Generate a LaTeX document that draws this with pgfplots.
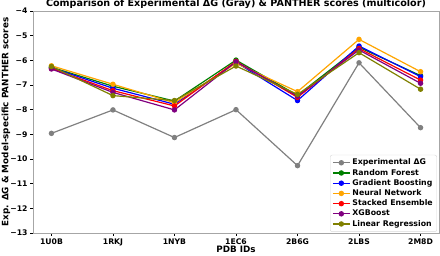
\documentclass[border=0pt]{standalone}
\usepackage{pgfplots}
\pgfplotsset{compat=1.18}
\usepackage{fontspec}
\setmainfont{DejaVu Sans}
\definecolor{mgray}{HTML}{808080}
\definecolor{mgreen}{HTML}{008000}
\definecolor{mblue}{HTML}{0000FF}
\definecolor{morange}{HTML}{FFA500}
\definecolor{mred}{HTML}{FF0000}
\definecolor{mpurple}{HTML}{800080}
\definecolor{molive}{HTML}{808000}
\begin{document}
\begin{tikzpicture}
\path[use as bounding box] (-33pt,-22pt) rectangle (407pt,233pt);
\begin{axis}[
  scale only axis, width=406pt, height=222pt,
  at={(0pt,0pt)}, anchor=south west,
  xmin=-0.3, xmax=6.3, ymin=-13, ymax=-4,
  xtick={0,...,6},
  xticklabels={1U0B,1RKJ,1NYB,1EC6,2B6G,2LBS,2M8D},
  ytick={-13,-12,...,-4},
  yticklabels={−13,−12,−11,−10,−9,−8,−7,−6,−5,−4},
  tick label style={font=\fontsize{7.7}{8.5}\selectfont\bfseries},
  xticklabel style={yshift=0.5pt},
  yticklabel style={xshift=0.5pt},
  tick align=outside, major tick length=2.5pt,
  tick style={black, line width=0.5pt},
  xtick pos=bottom, ytick pos=left,
  axis line style={gray!70, line width=0.6pt},
  title={Comparison of Experimental ΔG (Gray) \& PANTHER scores (multicolor)},
  title style={at={(axis description cs:0.5,1)}, anchor=base, yshift=-1.5pt,
    font=\fontsize{9.6}{11}\selectfont\bfseries},
  xlabel={PDB IDs},
  ylabel={Exp. ΔG \& Model-specific PANTHER scores},
  label style={font=\fontsize{8.8}{10}\selectfont\bfseries},
  xlabel style={at={(axis description cs:0.5,0)}, anchor=base, yshift=-19pt},
  ylabel style={at={(axis description cs:-0.0665,0.5)}, anchor=center},
  every axis plot/.append style={line width=1.2pt, mark=*, mark size=2.1pt},
  legend style={at={(rel axis cs:0.995,0.005)}, anchor=south east,
    draw=gray!30, rounded corners=2pt, font=\fontsize{7.8}{8.5}\selectfont\bfseries,
    row sep=-1.2pt, inner sep=2pt},
  legend cell align=left,
]
\addplot[color=mgray] coordinates {(0,-8.96) (1,-8.01) (2,-9.13) (3,-8.00) (4,-10.27) (5,-6.10) (6,-8.73)};
\addlegendentry{Experimental ΔG}
\addplot[color=mgreen] coordinates {(0,-6.28) (1,-7.05) (2,-7.65) (3,-5.99) (4,-7.42) (5,-5.47) (6,-6.62)};
\addlegendentry{Random Forest}
\addplot[color=mblue] coordinates {(0,-6.30) (1,-7.13) (2,-7.78) (3,-6.08) (4,-7.63) (5,-5.42) (6,-6.66)};
\addlegendentry{Gradient Boosting}
\addplot[color=morange] coordinates {(0,-6.22) (1,-6.97) (2,-7.72) (3,-6.12) (4,-7.27) (5,-5.15) (6,-6.46)};
\addlegendentry{Neural Network}
\addplot[color=mred] coordinates {(0,-6.33) (1,-7.23) (2,-7.85) (3,-6.04) (4,-7.50) (5,-5.52) (6,-6.80)};
\addlegendentry{Stacked Ensemble}
\addplot[color=mpurple] coordinates {(0,-6.35) (1,-7.30) (2,-8.01) (3,-6.06) (4,-7.45) (5,-5.58) (6,-6.93)};
\addlegendentry{XGBoost}
\addplot[color=molive] coordinates {(0,-6.25) (1,-7.43) (2,-7.63) (3,-6.23) (4,-7.38) (5,-5.69) (6,-7.17)};
\addlegendentry{Linear Regression}
\end{axis}
\end{tikzpicture}
\end{document}
